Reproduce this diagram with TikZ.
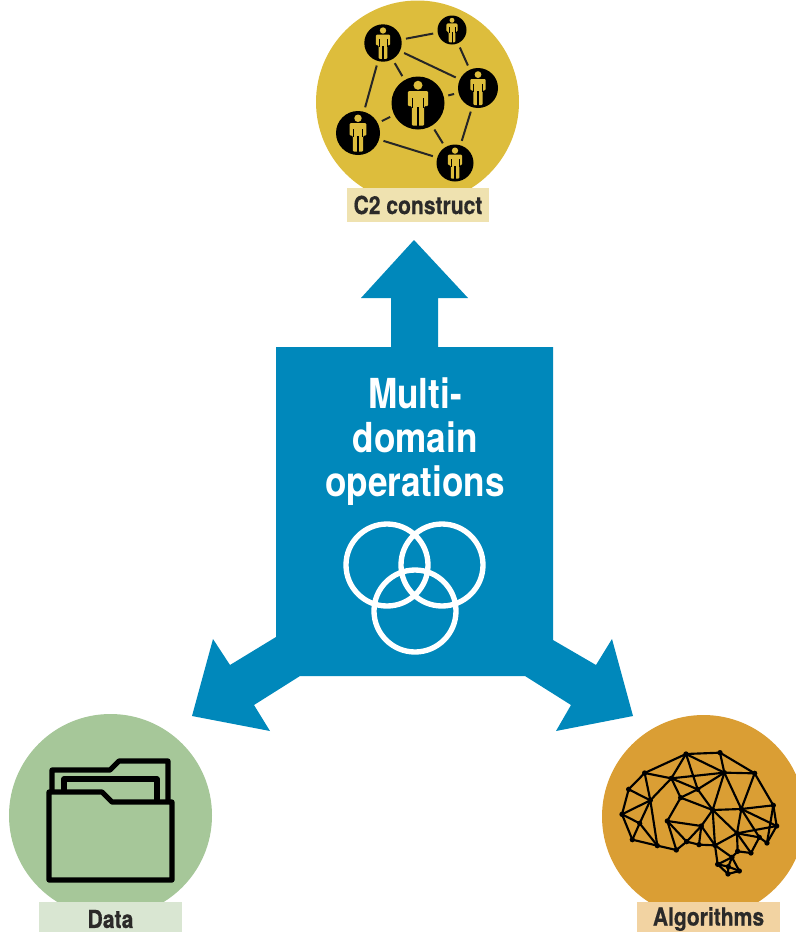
\documentclass[tikz,border=0pt]{standalone}
\usepackage{fontspec}
\usepackage{xcolor}
\newfontfamily\narrowfont{TeX Gyre Heros}[FakeStretch=0.85]
\newfontfamily\tagfont{TeX Gyre Heros}[FakeStretch=0.85,FakeBold=0.5]
\definecolor{mdoblue}{HTML}{0088BB}
\definecolor{cyellow}{HTML}{DDBD3C}
\definecolor{cyellowlt}{HTML}{EFE2B0}
\definecolor{dgreen}{HTML}{A6C799}
\definecolor{dgreenlt}{HTML}{D9E6D2}
\definecolor{aorange}{HTML}{DA9E34}
\definecolor{aorangelt}{HTML}{F2D3A2}
\definecolor{labeltext}{HTML}{2B2A29}
\tikzset{
  disc/.style={circle,inner sep=0pt,minimum size=152.25pt},
  tag/.style={inner sep=0pt,minimum width=107pt,minimum height=25.5pt,text=labeltext,
    font=\tagfont\bfseries\fontsize{18.6}{20}\selectfont},
  person/.style={circle,fill=black,inner sep=0pt,outer sep=3.5pt,minimum size=#1*0.75pt},
  personlink/.style={line width=1.5pt,black!85},
  foldline/.style={line width=3.9pt,line join=round},
  personicon/.pic={
    \fill[cyellow] (0,-.67) circle (.17);
    \fill[cyellow,rounded corners=.8pt] (-.38,.12) -- (-.38,-.45) -- (.38,-.45) -- (.38,.12) -- (.23,.12) -- (.23,.85) -- (-.23,.85) -- (-.23,.12) -- cycle;
    \fill[black] (-.24,-.2) rectangle (-.2,.2);
    \fill[black] (.2,-.2) rectangle (.24,.2);
    \fill[black] (-.03,.14) rectangle (.03,.9);
  }
}
\begin{document}
\begin{tikzpicture}[x=0.75pt,y=-0.75pt]
\useasboundingbox (0,0) rectangle (796,932);
% discs and tags
\node[disc,fill=cyellow] (c2disc) at (417.5,102) {};
\node[disc,fill=dgreen] (datadisc) at (110.5,815.5) {};
\node[disc,fill=aorange] (algdisc) at (703.5,816.5) {};
\node[tag,fill=cyellowlt] (c2tag) at (418,205) {C2 construct};
\node[tag,fill=dgreenlt] (datatag) at (110.5,919) {Data};
\node[tag,fill=aorangelt] (algtag) at (708.5,919) {Algorithms};
% block with the three arrows
\fill[mdoblue] (276,347) -- (391,347) -- (391,298) -- (361,298) -- (414,240) -- (468,298) -- (438,298) -- (438,347) -- (553,347)
  -- (553,640) -- (596,665) -- (612,639) -- (633,716) -- (556,731) -- (571,705) -- (525,676)
  -- (300,676) -- (254,705) -- (270,731) -- (192,716) -- (213,639) -- (230,665) -- (276,637) -- cycle;
\node[text=white,align=center,inner sep=0pt,font=\narrowfont\bfseries\fontsize{31}{33}\selectfont] (mdotext) at (415,442) {Multi-\\domain\\operations};
\draw[white,line width=4pt] (387,565) circle (41) (442,565) circle (41) (415,611) circle (41);
% people
\node[person=37.4] (p1) at (383,43) {};
\node[person=29] (p2) at (452,30) {};
\node[person=40] (p3) at (478,88) {};
\node[person=53] (p4) at (418,103) {};
\node[person=44] (p5) at (358,133) {};
\node[person=37] (p6) at (455,163) {};
\foreach \a/\b in {p1/p2,p1/p3,p1/p4,p1/p5,p2/p3,p3/p4,p3/p6,p4/p5,p4/p6,p5/p6}
  \draw[personlink] (\a) -- (\b);
\pic[scale=18.7] at (p1) {personicon};
\pic[scale=14.5] at (p2) {personicon};
\pic[scale=20] at (p3) {personicon};
\pic[scale=26.5] at (p4) {personicon};
\pic[scale=22] at (p5) {personicon};
\pic[scale=18.5] at (p6) {personicon};
% folder
\draw[foldline] (52,790) -- (52,770) -- (110,770) -- (119,761) -- (168,761) -- (168,800);
\draw[foldline] (64,790) -- (64,779) -- (157,779) -- (157,800);
\draw[foldline] (49,792) -- (102,792) -- (112,802) -- (172,802) -- (172,880) -- (49,880) -- cycle;
% brain
\begin{scope}[shift={(596,720)},scale=0.3333]
\foreach \n/\x/\y in {1/78/283,2/98/208,3/146/159,4/270/102,5/372/98,6/476/160,7/532/256,8/542/318,9/513/369,10/465/399,
  11/425/394,12/408/412,13/430/453,14/396/462,15/365/433,16/357/376,17/309/374,18/272/365,19/241/390,20/184/377,
  21/109/359,22/163/241,23/131/310,24/226/175,25/305/208,26/254/233,27/385/158,28/214/303,29/316/318,30/350/270,
  31/436/267,32/423/340,33/397/440,34/490/352}
  \coordinate (b\n) at (\x,\y);
\foreach \a/\b in {1/2,2/3,3/4,4/5,5/6,6/7,7/8,8/9,1/21,21/20,20/19,21/23,23/20,1/23,1/22,2/22,3/22,3/24,22/23,22/24,22/20,
  4/24,4/25,4/27,24/25,24/27,24/26,25/26,25/27,5/27,6/27,25/30,26/28,26/30,27/30,27/31,6/31,30/31,31/7,31/8,31/32,31/34,
  30/32,30/29,30/16,28/19,28/18,28/29,19/18,18/17,29/18,29/17,29/16,17/16,16/15,16/12,16/32,32/11,32/10,32/34,32/8,34/9,
  34/10,7/9,11/10,11/12,12/13,13/14,14/15,15/12,33/12,33/13,33/14,15/33}
  \draw[line width=1.6pt] (b\a) -- (b\b);
\foreach \n in {1,...,34}
  \fill (b\n) circle (8);
\end{scope}
\end{tikzpicture}
\end{document}
